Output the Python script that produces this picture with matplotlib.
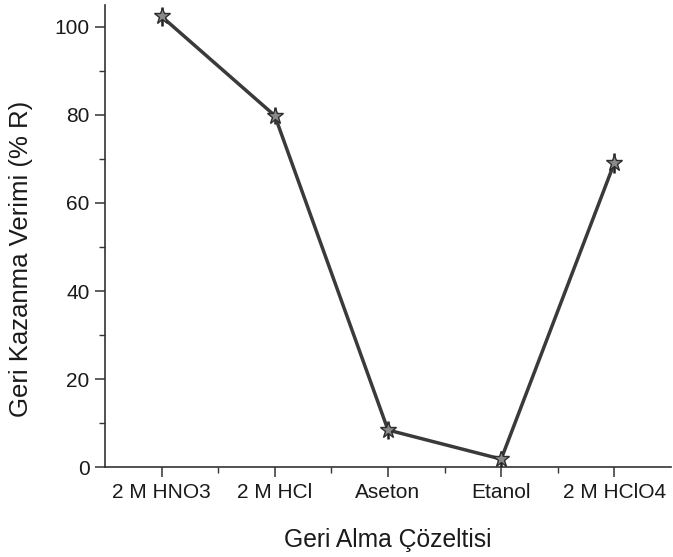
import matplotlib.pyplot as plt

# veriler
solutions = ['2 M HNO3', '2 M HCl', 'Aseton', 'Etanol', '2 M HClO4']
recovery = [102.3, 79.8, 8.5, 1.9, 69.1]
errors = [2.2, 2.0, 2.0, 1.8, 2.2]
y_ticks = [0, 20, 40, 60, 80, 100]

plt.rcParams['font.family'] = ['Liberation Sans', 'DejaVu Sans']

fig = plt.figure(figsize=(6.73, 5.57), dpi=100)
ax = fig.add_axes([0.156, 0.1607, 0.841, 0.8312])

x = list(range(1, len(solutions) + 1))

# çizgi + hata çubukları
ax.errorbar(x, recovery, yerr=errors, color='#3a3a3a', lw=2.5,
            ecolor='#1e1e1e', elinewidth=1.8, capsize=0,
            marker='*', markersize=12, markerfacecolor='#8a8a8a',
            markeredgecolor='#2e2e2e', markeredgewidth=1.0, zorder=3)

ax.set_xlim(0.5, 5.5)
ax.set_ylim(0, 105)
ax.set_xticks(x)
ax.set_xticklabels(solutions)
ax.set_xticks([1.5, 2.5, 3.5, 4.5], minor=True)
ax.set_yticks(y_ticks)
ax.set_yticks([10, 30, 50, 70, 90], minor=True)

for side in ['top', 'right']:
    ax.spines[side].set_visible(False)
for side in ['left', 'bottom']:
    ax.spines[side].set_color('#333333')
    ax.spines[side].set_linewidth(1.2)

ax.tick_params(which='major', direction='out', length=7, width=1.1,
               color='#333333', labelsize=15, labelcolor='#1a1a1a', pad=4)
ax.tick_params(which='minor', direction='out', length=4, width=1.0,
               color='#333333')

ax.set_xlabel('Geri Alma Çözeltisi', fontsize=17.7, color='#1a1a1a', labelpad=19)
ax.set_ylabel('Geri Kazanma Verimi (% R)', fontsize=18.5, color='#1a1a1a')
ax.yaxis.set_label_coords(-0.127, 0.45)

plt.savefig('out.png', dpi=100)
plt.close(fig)
